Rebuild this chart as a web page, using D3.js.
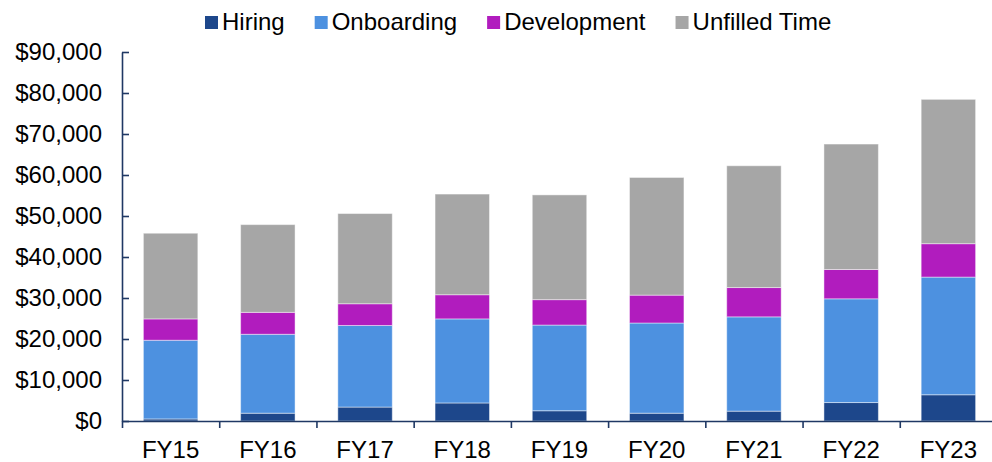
<!DOCTYPE html>
<html>
<head>
<meta charset="utf-8">
<script src="https://cdn.jsdelivr.net/npm/d3@7"></script>
<style>
  body { margin: 0; background: #fff; }
  svg { display: block; font-family: Arial, "Liberation Sans", sans-serif; }
</style>
</head>
<body>
<svg width="992" height="462"></svg>
<script>
"use strict";

// Chart data
var years = ["FY15", "FY16", "FY17", "FY18", "FY19", "FY20", "FY21", "FY22", "FY23"];
var hiring      = [500, 1900, 3400, 4400, 2500, 1900, 2400, 4500, 6400];
var onboarding  = [19200, 19250, 19900, 20500, 20900, 22000, 23000, 25300, 28700];
var development = [5200, 5350, 5300, 5900, 6200, 6800, 7150, 7150, 8150];
var unfilled    = [20900, 21400, 22000, 24550, 25550, 28700, 29700, 30600, 35200];
var seriesNames = ["Hiring", "Onboarding", "Development", "Unfilled Time"];
var yTicks = [0, 10000, 20000, 30000, 40000, 50000, 60000, 70000, 80000, 90000];

var colors = ["#1d478b", "#4d91e0", "#b11cbe", "#a6a6a6"];
var axisColor = "#1f3864";

// Build rows for the stack layout
var rows = years.map(function(y, i) {
    return {
        year: y,
        "Hiring": hiring[i],
        "Onboarding": onboarding[i],
        "Development": development[i],
        "Unfilled Time": unfilled[i]
    };
});

var svg = d3.select("svg");

// Scales
var xScale = d3.scaleBand()
    .domain(years)
    .range([122, 997])
    .paddingInner(0.44)
    .paddingOuter(0.22);

var yScale = d3.scaleLinear()
    .domain([0, 90000])
    .range([421, 52]);

var color = d3.scaleOrdinal()
    .domain(seriesNames)
    .range(colors);

var stacked = d3.stack().keys(seriesNames)(rows);

// Draw the stacked bars
svg.append("g")
    .attr("class", "bars")
    .selectAll("g")
    .data(stacked)
    .enter().append("g")
    .attr("fill", function(d) { return color(d.key); })
    .selectAll("rect")
    .data(function(d) { return d; })
    .enter().append("rect")
    .attr("x", function(d) { return xScale(d.data.year); })
    .attr("y", function(d) { return yScale(d[1]); })
    .attr("height", function(d) { return yScale(d[0]) - yScale(d[1]); })
    .attr("width", xScale.bandwidth())
    .attr("stroke", "#ffffff")
    .attr("stroke-opacity", 0.45)
    .attr("stroke-width", 1);

// Y axis, ticks pointing into the plot
var yAxis = d3.axisLeft(yScale)
    .tickValues(yTicks)
    .tickSizeInner(-7)
    .tickSizeOuter(0)
    .tickPadding(20)
    .tickFormat(function(d) { return "$" + d3.format(",")(d); });

svg.append("g")
    .attr("class", "y-axis")
    .attr("transform", "translate(122, 0)")
    .call(yAxis);

// X axis: boundary ticks between categories
var edgeScale = d3.scaleLinear()
    .domain([0, years.length])
    .range([122, 997]);

svg.append("g")
    .attr("class", "x-edges")
    .attr("transform", "translate(0, 421)")
    .call(d3.axisBottom(edgeScale)
        .ticks(years.length)
        .tickSizeInner(7)
        .tickSizeOuter(0)
        .tickFormat(""));

// X axis labels
var gx = svg.append("g")
    .attr("class", "x-axis")
    .attr("transform", "translate(0, 421)")
    .call(d3.axisBottom(xScale)
        .tickSize(0)
        .tickPadding(20));
gx.select(".domain").remove();

// Style the axes
svg.selectAll(".y-axis path, .y-axis line, .x-edges path, .x-edges line")
    .attr("stroke", axisColor)
    .attr("stroke-width", 1.6);

svg.selectAll(".y-axis text, .x-axis text")
    .attr("fill", "#000")
    .style("font-size", "24px")
    .style("font-family", "Arial, 'Liberation Sans', sans-serif");

// Legend
var legend = svg.append("g").attr("class", "legend");
var lx = 205;
seriesNames.forEach(function(name) {
    legend.append("rect")
        .attr("x", lx)
        .attr("y", 16)
        .attr("width", 13)
        .attr("height", 13)
        .attr("fill", color(name));
    var t = legend.append("text")
        .attr("x", lx + 17)
        .attr("y", 30)
        .style("font-size", "24px")
        .attr("fill", "#000")
        .text(name);
    lx += 17 + t.node().getComputedTextLength() + 30;
});
</script>
</body>
</html>
